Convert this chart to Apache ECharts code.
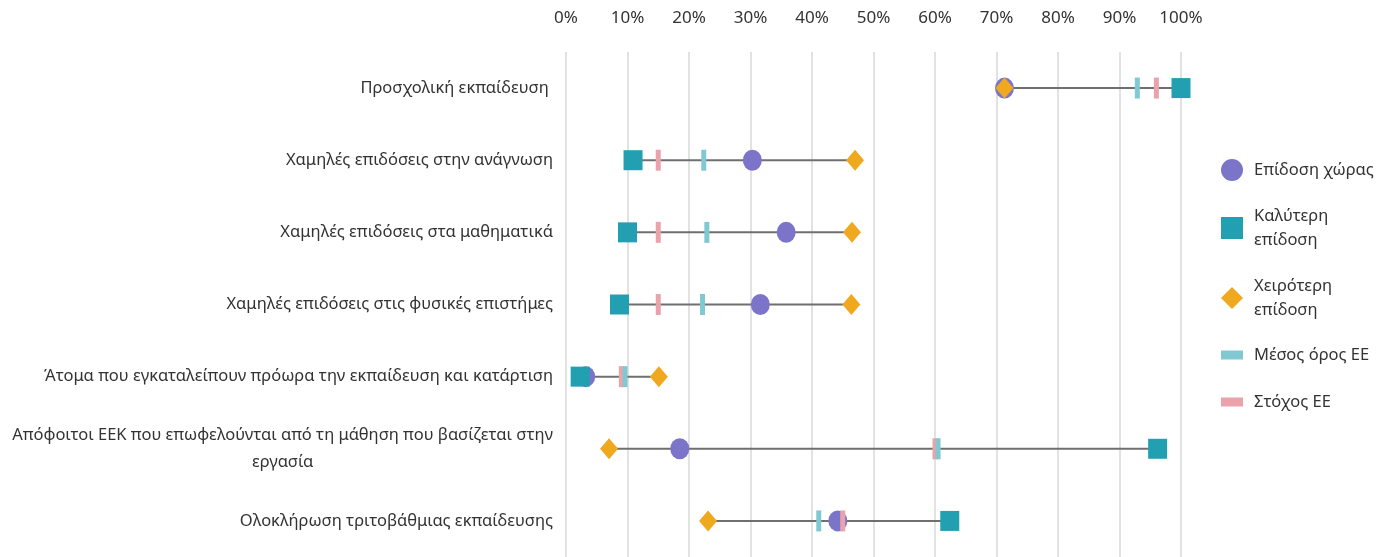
<!DOCTYPE html>
<html>
<head>
<meta charset="utf-8">
<script src="https://cdn.jsdelivr.net/npm/echarts@6/dist/echarts.min.js"></script>
<style>html,body{margin:0;padding:0;background:#fff}#c{width:1392px;height:557px}</style>
</head>
<body>
<div id="c"></div>
<script>
const categories = [
  'Προσχολική εκπαίδευση ',
  'Χαμηλές επιδόσεις στην ανάγνωση',
  'Χαμηλές επιδόσεις στα μαθηματικά',
  'Χαμηλές επιδόσεις στις φυσικές επιστήμες',
  'Άτομα που εγκαταλείπουν πρόωρα την εκπαίδευση και κατάρτιση',
  'Απόφοιτοι ΕΕΚ που επωφελούνται από τη μάθηση που βασίζεται στην\nεργασία',
  'Ολοκλήρωση τριτοβάθμιας εκπαίδευσης'
];
const countryPerf = [71.3, 30.3, 35.8, 31.6, 3.2, 18.5, 44.2];
const bestPerf    = [100, 10.9, 10.0, 8.7, 2.3, 96.2, 62.4];
const worstPerf   = [71.3, 47.0, 46.5, 46.4, 15.1, 7.0, 23.1];
const euAverage   = [92.9, 22.4, 22.9, 22.2, 9.6, 60.5, 41.1];
const euTarget    = [96.0, 15, 15, 15, 9, 60, 45];
const xTicks = [0, 10, 20, 30, 40, 50, 60, 70, 80, 90, 100];

const names = ['Επίδοση χώρας', 'Καλύτερη\nεπίδοση', 'Χειρότερη\nεπίδοση', 'Μέσος όρος ΕΕ', 'Στόχος ΕΕ'];
const colors = ['#7b74c9', '#22a0b1', '#f0a81f', '#80c9d3', '#eaa3ab'];

const FONT = 'Noto Sans';
const FS = 16.5;
const rangeData = categories.map((c, i) => {
  const vals = [countryPerf[i], bestPerf[i], worstPerf[i], euAverage[i], euTarget[i]];
  return [Math.min(...vals), Math.max(...vals), i];
});

const pts = arr => arr.map((v, i) => [v, i]);

const legendCenters = [170, 228, 298, 355, 402];
const legendIcons = [
  'circle',
  'path://M0,0h20v20h-20z',
  'path://M10,0L20,10L10,20L0,10z',
  'path://M0,0L0.001,0M0,6h20v8h-20zM20,20L19.999,20',
  'path://M0,0L0.001,0M0,6h20v8h-20zM20,20L19.999,20'
];
const LH = 24;
const legends = names.map((n, k) => {
  const lines = n.split('\n').length;
  const h = Math.max(22, lines * LH);
  return {
    data: [{ name: n, icon: legendIcons[k] }],
    left: 1221,
    top: legendCenters[k] - h / 2,
    orient: 'vertical',
    itemWidth: 22,
    itemHeight: 22,
    itemGap: 0,
    padding: 0,
    selectedMode: false,
    textStyle: { fontFamily: FONT, fontSize: FS, color: '#333', lineHeight: LH, padding: [0, 0, 0, 6] }
  };
});

const chart = echarts.init(document.getElementById('c'), null, { renderer: 'canvas' });
chart.setOption({
  animation: false,
  backgroundColor: '#fff',
  legend: legends,
  grid: { left: 566, right: 211, top: 52, bottom: 0, containLabel: false },
  xAxis: {
    type: 'value', position: 'top', min: 0, max: 100, interval: 10,
    axisLine: { show: false }, axisTick: { show: false },
    axisLabel: {
      fontFamily: FONT, fontSize: 17, color: '#333', margin: 25,
      formatter: v => (xTicks.indexOf(v) >= 0 ? v + '%' : '')
    },
    splitLine: { show: true, lineStyle: { color: '#d9d9d9', width: 1.5 } }
  },
  yAxis: {
    type: 'category', data: categories, inverse: true,
    axisLine: { show: false }, axisTick: { show: false },
    splitLine: { show: false },
    axisLabel: {
      fontFamily: FONT, fontSize: FS, color: '#333', margin: 13, lineHeight: 27,
      formatter: v => {
        const parts = v.split('\n');
        if (parts.length === 1) return v;
        return parts.map(p => '{c|' + p + '}').join('\n');
      },
      rich: { c: { align: 'center', fontFamily: FONT, fontSize: FS, color: '#333', lineHeight: 27 } }
    }
  },
  series: [
    {
      type: 'custom', name: 'range', silent: true, z: 1,
      data: rangeData,
      encode: { x: [0, 1], y: 2 },
      renderItem: (params, api) => {
        const a = api.coord([api.value(0), api.value(2)]);
        const b = api.coord([api.value(1), api.value(2)]);
        return { type: 'line', shape: { x1: a[0], y1: a[1], x2: b[0], y2: b[1] },
                 style: { stroke: '#6f6f6f', lineWidth: 2 } };
      }
    },
    { type: 'scatter', name: names[0], data: pts(countryPerf), symbol: 'circle', symbolSize: [19, 21],
      itemStyle: { color: colors[0], opacity: 1 }, z: 2 },
    { type: 'scatter', name: names[1], data: pts(bestPerf), symbol: 'rect', symbolSize: [19, 20],
      itemStyle: { color: colors[1], opacity: 1 }, z: 3 },
    { type: 'scatter', name: names[2], data: pts(worstPerf), symbol: 'diamond', symbolSize: [18, 21],
      itemStyle: { color: colors[2], opacity: 1 }, z: 4 },
    { type: 'scatter', name: names[3], data: pts(euAverage), symbol: 'rect', symbolSize: [5, 21],
      itemStyle: { color: colors[3], opacity: 1 }, z: 6 },
    { type: 'scatter', name: names[4], data: pts(euTarget), symbol: 'rect', symbolSize: [5, 21],
      itemStyle: { color: colors[4], opacity: 1 }, z: 5 }
  ]
});
</script>
</body>
</html>
